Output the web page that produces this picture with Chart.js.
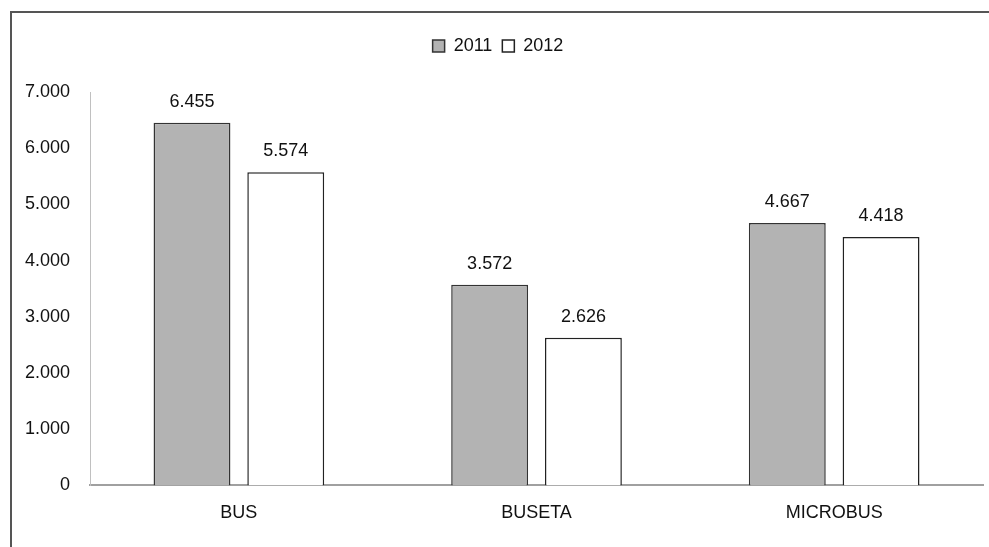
<!DOCTYPE html>
<html>
<head>
<meta charset="utf-8">
<script src="https://cdn.jsdelivr.net/npm/chart.js@4/dist/chart.umd.min.js"></script>
<style>
    html, body { margin: 0; padding: 0; background: #fff; }
    #frame {
        position: absolute; left: 10px; top: 11px; width: 1000px; height: 560px;
        border-top: 2px solid #555; border-left: 2px solid #555;
    }
    #wrap { position: absolute; left: 0; top: 0; width: 989px; height: 547px; }
</style>
</head>
<body>
<div id="frame"></div>
<div id="wrap"><canvas id="chart"></canvas></div>
<script>
// ===== DATA =====
var categories = ['BUS', 'BUSETA', 'MICROBUS'];
var values2011 = [6455, 3572, 4667];
var values2012 = [5574, 2626, 4418];
var seriesNames = ['2011', '2012'];
var yTicks = [0, 1000, 2000, 3000, 4000, 5000, 6000, 7000];

var FONT = "'Liberation Sans', Arial, sans-serif";
var FONT_SIZE = 18;

function fmt(v) {
    return String(v).replace(/\B(?=(\d{3})+(?!\d))/g, '.');
}

// extra room under the legend
var legendGap = {
    id: 'legendGap',
    beforeInit: function (chart) {
        if (!chart.legend) return;
        var fit = chart.legend.fit;
        chart.legend.fit = function () {
            fit.bind(chart.legend)();
            this.height += 27;
        };
    }
};

// draws the value above each bar
var valueLabels = {
    id: 'valueLabels',
    afterDatasetsDraw: function (chart) {
        var ctx = chart.ctx;
        ctx.save();
        ctx.font = FONT_SIZE + 'px ' + FONT;
        ctx.fillStyle = '#111';
        ctx.textAlign = 'center';
        ctx.textBaseline = 'bottom';
        chart.data.datasets.forEach(function (ds, i) {
            chart.getDatasetMeta(i).data.forEach(function (bar, j) {
                ctx.fillText(fmt(ds.data[j]), bar.x, bar.y - 12);
            });
        });
        ctx.restore();
    }
};

Chart.defaults.font.family = FONT;
Chart.defaults.font.size = FONT_SIZE;
Chart.defaults.color = '#111';

new Chart(document.getElementById('chart'), {
    type: 'bar',
    data: {
        labels: categories,
        datasets: [{
            label: seriesNames[0],
            data: values2011,
            backgroundColor: '#b3b3b3',
            borderColor: '#333',
            borderWidth: 1.5
        }, {
            label: seriesNames[1],
            data: values2012,
            backgroundColor: '#ffffff',
            borderColor: '#222',
            borderWidth: 1.5
        }]
    },
    options: {
        responsive: true,
        maintainAspectRatio: false,
        animation: false,
        categoryPercentage: 0.63,
        barPercentage: 0.82,
        layout: { padding: { left: 13, right: 6, top: 27, bottom: 14 } },
        plugins: {
            legend: {
                position: 'top',
                labels: { boxWidth: 12, boxHeight: 12, padding: 10, color: '#111', font: { size: FONT_SIZE } }
            },
            tooltip: { enabled: false }
        },
        scales: {
            x: {
                grid: { display: false },
                border: { display: true, color: '#a0a0a0', width: 2 },
                ticks: { padding: 9 }
            },
            y: {
                min: 0,
                max: 7000,
                afterBuildTicks: function (axis) {
                    axis.ticks = yTicks.map(function (v) { return { value: v }; });
                },
                grid: { display: false },
                border: { display: true, color: '#c0c0c0', width: 1 },
                ticks: { padding: 12, callback: function (v) { return fmt(v); } }
            }
        }
    },
    plugins: [legendGap, valueLabels]
});
</script>
</body>
</html>
